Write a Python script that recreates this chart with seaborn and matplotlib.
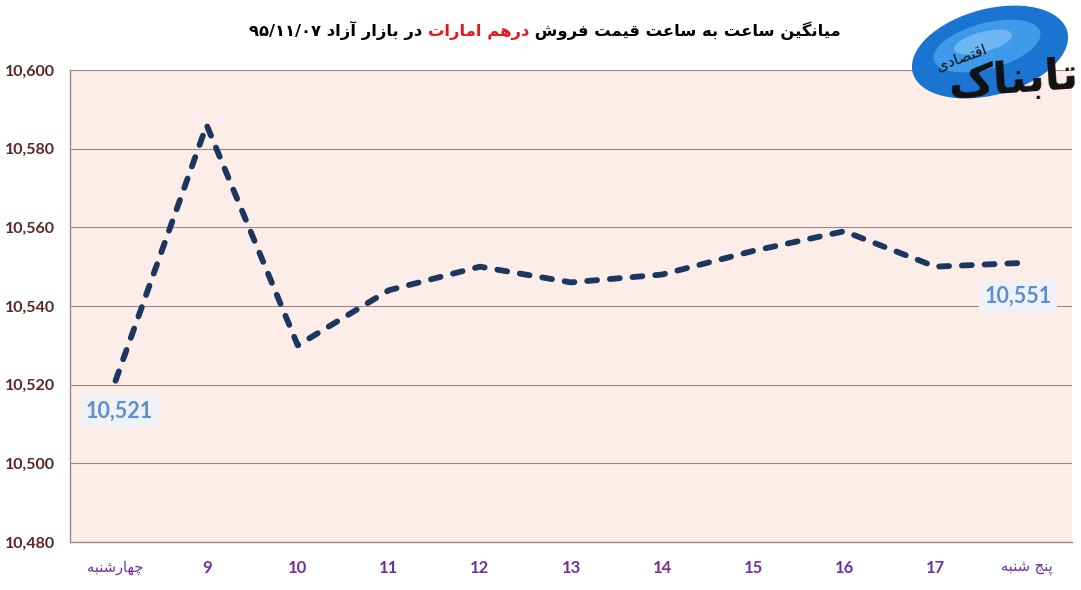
import matplotlib
matplotlib.use("Agg")
import matplotlib.pyplot as plt
import seaborn as sns
import pandas as pd
from matplotlib.patches import Ellipse

# ---------------- data ----------------
categories = ["چهارشنبه", "9", "10", "11", "12", "13", "14", "15", "16", "17", "پنج شنبه"]
prices = [10521, 10586, 10530, 10544, 10550, 10546, 10548, 10554, 10559, 10550, 10551]
y_ticks = [10480, 10500, 10520, 10540, 10560, 10580, 10600]
title_part1 = "میانگین ساعت به ساعت قیمت فروش "
title_part2 = "درهم امارات"
title_part3 = " در بازار آزاد ۹۵/۱۱/۰۷"
logo_main = "تابناک"
logo_sub = "اقتصادی"

# ---------------- simple Arabic/Persian shaping ----------------
FORMS = {  # iso, fin, ini, med
    'ا': ('\uFE8D', '\uFE8E', None, None),
    'آ': ('\uFE81', '\uFE82', None, None),
    'د': ('\uFEA9', '\uFEAA', None, None),
    'ذ': ('\uFEAB', '\uFEAC', None, None),
    'ر': ('\uFEAD', '\uFEAE', None, None),
    'ز': ('\uFEAF', '\uFEB0', None, None),
    'و': ('\uFEED', '\uFEEE', None, None),
    'ب': ('\uFE8F', '\uFE90', '\uFE91', '\uFE92'),
    'ت': ('\uFE95', '\uFE96', '\uFE97', '\uFE98'),
    'ج': ('\uFE9D', '\uFE9E', '\uFE9F', '\uFEA0'),
    'س': ('\uFEB1', '\uFEB2', '\uFEB3', '\uFEB4'),
    'ش': ('\uFEB5', '\uFEB6', '\uFEB7', '\uFEB8'),
    'ص': ('\uFEB9', '\uFEBA', '\uFEBB', '\uFEBC'),
    'ع': ('\uFEC9', '\uFECA', '\uFECB', '\uFECC'),
    'ف': ('\uFED1', '\uFED2', '\uFED3', '\uFED4'),
    'ق': ('\uFED5', '\uFED6', '\uFED7', '\uFED8'),
    'م': ('\uFEE1', '\uFEE2', '\uFEE3', '\uFEE4'),
    'ن': ('\uFEE5', '\uFEE6', '\uFEE7', '\uFEE8'),
    'ه': ('\uFEE9', '\uFEEA', '\uFEEB', '\uFEEC'),
    'ی': ('\uFBFC', '\uFBFD', '\uFBFE', '\uFBFF'),
    'ک': ('\uFB8E', '\uFB8F', '\uFB90', '\uFB91'),
    'گ': ('\uFB92', '\uFB93', '\uFB94', '\uFB95'),
    'پ': ('\uFB56', '\uFB57', '\uFB58', '\uFB59'),
    'چ': ('\uFB7A', '\uFB7B', '\uFB7C', '\uFB7D'),
}


def dual(c):
    return c in FORMS and FORMS[c][2] is not None


def shape(s):
    out = []
    for i, c in enumerate(s):
        if c not in FORMS:
            out.append(c)
            continue
        prev = s[i - 1] if i > 0 else ''
        nxt = s[i + 1] if i + 1 < len(s) else ''
        jp = dual(prev)
        jn = dual(c) and nxt in FORMS
        iso, fin, ini, med = FORMS[c]
        if jp and jn:
            out.append(med)
        elif jp:
            out.append(fin)
        elif jn:
            out.append(ini)
        else:
            out.append(iso)
    # visual order: reverse, but keep digit runs left-to-right
    rev = out[::-1]
    res, run = [], []
    ltr = set('0123456789۰۱۲۳۴۵۶۷۸۹/')
    for ch in rev:
        if ch in ltr:
            run.append(ch)
        else:
            if run:
                res.extend(run[::-1]); run = []
            res.append(ch)
    if run:
        res.extend(run[::-1])
    return ''.join(res)


def visual(s):
    if any(c in FORMS for c in s):
        return shape(s)
    return s


# ---------------- figure ----------------
sns.set_theme(style="white")
plt.rcParams['font.family'] = ['Lato', 'DejaVu Sans']

W, H = 1081, 590
fig = plt.figure(figsize=(W / 100, H / 100), dpi=100)
ax = fig.add_axes([70 / W, 1 - 542 / H, (1072 - 70) / W, (542 - 70) / H])
ax.set_facecolor('#FCEDE9')

df = pd.DataFrame({'pos': range(len(categories)), 'price': prices})
sns.lineplot(data=df, x='pos', y='price', ax=ax, color='#1B365F', lw=4.2,
             dashes=False, sort=False)
line = ax.lines[0]
line.set_dashes([1.7, 2.2])
line.set_dash_capstyle('round')
line.set_solid_joinstyle('round')

ax.set_xlim(-0.5, len(categories) - 0.5)
ax.set_ylim(y_ticks[0], y_ticks[-1])
ax.set_yticks(y_ticks)
ax.set_yticklabels([f"{v:,}" for v in y_ticks], fontsize=11.5, fontweight='bold',
                   color='#5A2626')
ax.set_xticks(range(len(categories)))
xlabels = ax.set_xticklabels([visual(c) for c in categories], fontsize=12,
                             fontweight='bold', color='#7030A0')
for lab, c in zip(xlabels, categories):
    if any(ch in FORMS for ch in c):
        lab.set_family(['DejaVu Sans'])
        lab.set_fontweight('normal')
        lab.set_fontsize(10.5)
ax.tick_params(axis='x', length=0, pad=13)
ax.tick_params(axis='y', length=0, pad=11)
ax.set_xlabel('')
ax.set_ylabel('')
ax.grid(axis='y', color='#9C8886', lw=0.8)
ax.set_axisbelow(True)
for side in ['top', 'right']:
    ax.spines[side].set_visible(False)
for side in ['left', 'bottom']:
    ax.spines[side].set_color('#9C8886')
    ax.spines[side].set_linewidth(1.0)

# data labels (first and last)
box = dict(boxstyle='square,pad=0.25', fc='#EEF1F5', ec='none')
ax.annotate(f"{prices[0]:,}", xy=(0, prices[0]), xytext=(3, -22),
            textcoords='offset points', ha='center', va='center', fontsize=15.5,
            fontweight='bold', color='#5B8FD0', bbox=box)
ax.annotate(f"{prices[-1]:,}", xy=(len(prices) - 1, prices[-1]), xytext=(-6, -24),
            textcoords='offset points', ha='center', va='center', fontsize=15.5,
            fontweight='bold', color='#5B8FD0', bbox=box)

# ---------------- title (three coloured pieces, visual LTR order) ----------------
def draw_title(fs, x0):
    tkw = dict(fontsize=fs, fontweight='bold', family=['DejaVu Sans'])
    t1 = fig.text(x0, 1 - 30 / H, visual(title_part3), ha='left', va='center',
                  color='black', **tkw)
    t2 = fig.text(0, 0, visual(title_part2), ha='left', va='bottom',
                  color='#E8141B', **tkw)
    t3 = fig.text(0, 0, visual(title_part1), ha='left', va='bottom',
                  color='black', **tkw)
    return [t1, t2, t3]


def layout_title(parts):
    r = fig.canvas.get_renderer()
    b1 = parts[0].get_window_extent(r)
    b2 = parts[1].get_window_extent(r)
    parts[1].set_position(((b1.x1) / W, b1.y0 / H))
    parts[2].set_position(((b1.x1 + b2.width) / W, b1.y0 / H))
    b3 = parts[2].get_window_extent(r)
    return b1.width + b2.width + b3.width


parts = draw_title(14.5, 0.2)
total = layout_title(parts)
for p in parts:
    p.remove()
fs = 14.5 * 594 / total
parts = draw_title(fs, 0.2)
total = layout_title(parts)
x0 = 545 - total / 2
for p in parts:
    p.remove()
parts = draw_title(fs, x0 / W)
layout_title(parts)

# ---------------- logo ----------------
lax = fig.add_axes([895 / W, 1 - 112 / H, 186 / W, 112 / H])
lax.set_xlim(0, 186)
lax.set_ylim(112, 0)
lax.axis('off')
lax.add_patch(Ellipse((95, 52), 160, 86, angle=-15, fc='#1C74D2', ec='none'))
lax.add_patch(Ellipse((92, 46), 110, 46, angle=-15, fc='#3F9AEA', ec='none'))
lax.add_patch(Ellipse((88, 42), 60, 20, angle=-15, fc='#6DB6F2', ec='none'))
lax.text(118, 80, visual(logo_main), fontsize=32, fontweight='bold',
         family=['DejaVu Sans'], color='#111111', ha='center', va='center',
         rotation=4)
lax.text(66, 58, visual(logo_sub), fontsize=11, family=['DejaVu Sans'],
         color='#111111', ha='center', va='center', rotation=20)

fig.savefig('out.png', dpi=100)
